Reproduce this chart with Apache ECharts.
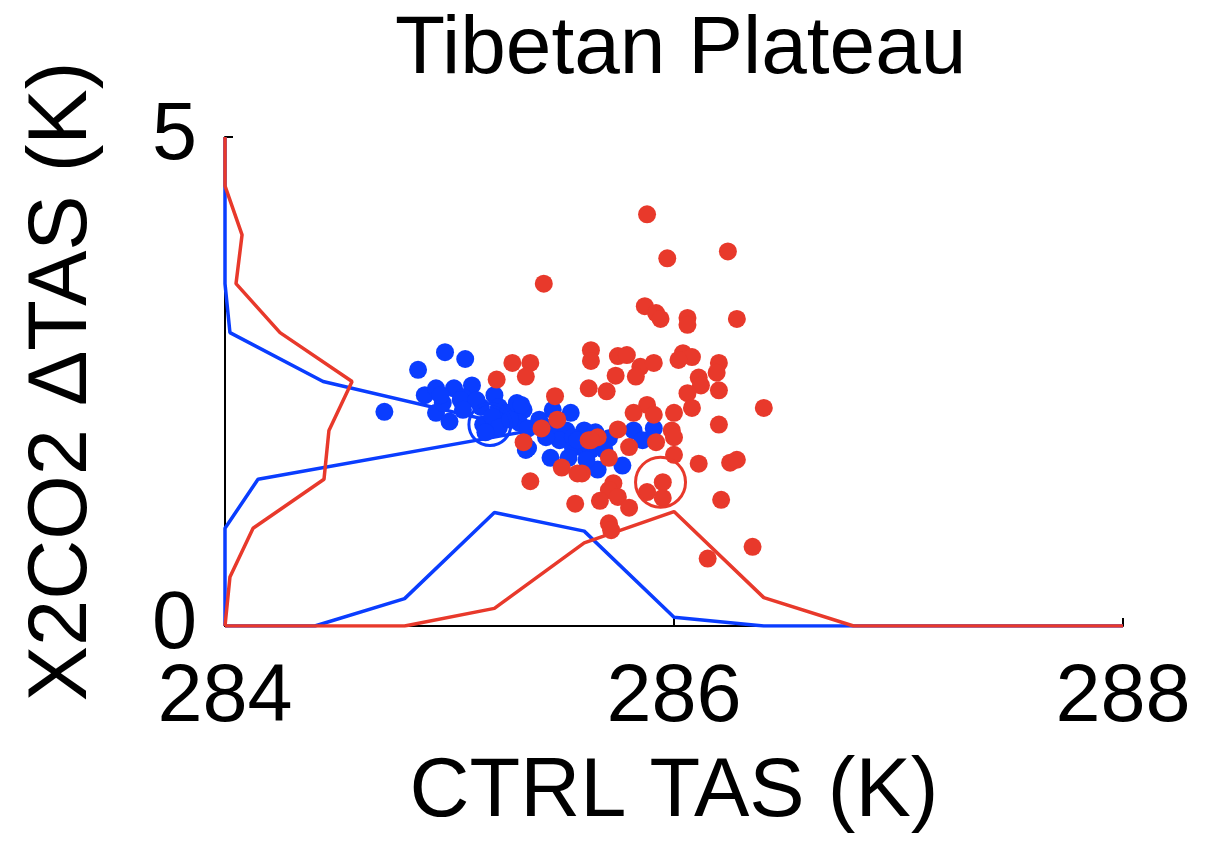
<!DOCTYPE html>
<html>
<head>
<meta charset="utf-8">
<script src="https://cdn.jsdelivr.net/npm/echarts@6/dist/echarts.min.js"></script>
<style>
  html, body { margin: 0; padding: 0; background: #ffffff; }
  #chart { width: 1220px; height: 844px; }
</style>
</head>
<body>
<div id="chart"></div>
<script>
// ---- data -------------------------------------------------------------
const titleText = 'Tibetan Plateau';
const xName = 'CTRL TAS (K)';
const yName = 'X2CO2 \u0394TAS (K)';
const xTicks = [284, 286, 288];
const yTicks = [0, 5];

// CTRL TAS (K), X2CO2 dTAS (K) per ensemble member
const bluePoints = [
  [284.98, 2.80], [285.07, 2.73], [284.86, 2.62], [284.71, 2.19], [284.89, 2.36],
  [284.94, 2.43], [285.02, 2.43], [285.10, 2.46], [285.06, 2.34], [284.94, 2.18],
  [285.00, 2.09], [284.97, 2.28], [285.14, 2.24], [285.20, 2.36], [285.22, 2.24],
  [285.26, 2.18], [285.15, 2.06], [285.21, 2.11], [285.18, 2.00], [285.30, 2.28],
  [285.33, 2.21], [285.31, 2.08], [285.35, 2.02], [285.35, 1.82], [285.46, 2.21],
  [285.54, 2.18], [285.45, 2.03], [285.52, 2.00], [285.60, 2.00], [285.65, 1.98],
  [285.71, 1.92], [285.67, 1.85], [285.49, 1.90], [285.55, 1.82], [285.61, 1.78],
  [285.45, 1.72], [285.53, 1.72], [285.66, 1.60], [285.77, 1.64], [285.82, 2.00],
  [285.86, 1.90], [285.91, 2.02], [285.05, 2.31], [285.12, 2.31], [285.19, 2.14],
  [285.22, 2.03], [285.16, 1.98], [285.32, 2.26], [285.34, 1.80], [285.63, 1.80],
  [285.55, 1.93], [285.61, 1.70], [284.96, 2.36], [285.27, 2.11], [285.40, 2.11],
  [285.57, 1.90], [285.69, 1.80], [285.06, 2.21], [285.43, 1.93]
];
const redPoints = [
  [285.42, 3.50], [285.88, 4.21], [285.97, 3.76], [286.24, 3.83], [285.87, 3.27],
  [285.92, 3.20], [285.94, 3.14], [286.06, 3.15], [286.06, 3.08], [286.28, 3.14],
  [285.28, 2.69], [285.36, 2.69], [285.63, 2.82], [285.63, 2.71], [285.75, 2.76],
  [285.79, 2.77], [285.85, 2.65], [285.91, 2.69], [285.83, 2.55], [285.74, 2.56],
  [285.62, 2.43], [285.70, 2.40], [286.04, 2.79], [286.08, 2.75], [286.02, 2.72],
  [286.20, 2.69], [286.19, 2.59], [286.20, 2.41], [286.11, 2.54], [286.12, 2.46],
  [286.06, 2.38], [286.08, 2.23], [285.88, 2.26], [285.91, 2.16], [285.82, 2.18],
  [286.00, 2.18], [286.40, 2.23], [286.20, 2.06], [285.75, 2.01], [285.99, 2.00],
  [286.00, 1.93], [285.92, 1.88], [285.80, 1.83], [285.62, 1.90], [285.66, 1.93],
  [285.71, 1.72], [286.00, 1.75], [286.11, 1.66], [286.25, 1.67], [286.28, 1.70],
  [285.59, 1.56], [285.73, 1.46], [285.71, 1.39], [285.95, 1.47], [285.88, 1.37],
  [285.95, 1.31], [286.21, 1.29], [285.56, 1.25], [285.67, 1.28], [285.75, 1.32],
  [285.80, 1.21], [285.71, 1.05], [285.72, 0.98], [286.35, 0.81], [286.15, 0.69],
  [285.34, 2.55], [285.21, 2.52], [285.47, 2.35], [285.48, 2.11], [285.41, 2.02],
  [285.33, 1.88], [285.50, 1.62], [285.57, 1.56], [285.36, 1.48], [285.63, 1.90]
];

// ensemble means
const blueMean = [285.18, 2.06];
const redMean = [285.94, 1.47];

// marginal distribution of CTRL TAS: bin centres (K) and heights
const xBins = [284.0, 284.4, 284.8, 285.2, 285.6, 286.0, 286.4, 286.8, 287.2, 287.6, 288.0];
const blueXDist = [0, 0, 0.28, 1.16, 0.97, 0.09, 0, 0, 0, 0, 0];
const redXDist  = [0, 0, 0, 0.18, 0.85, 1.17, 0.29, 0, 0, 0, 0];

// marginal distribution of dTAS: bin centres (K) and widths (K from the left edge)
const yBins = [0, 0.5, 1.0, 1.5, 2.0, 2.5, 3.0, 3.5, 4.0, 4.5, 5.0];
const blueYDist = [0, 0, 0, 0.147, 1.367, 0.437, 0.022, 0, 0, 0, 0];
const redYDist  = [0, 0.022, 0.125, 0.441, 0.463, 0.566, 0.245, 0.049, 0.076, 0, 0];

// ---- chart ------------------------------------------------------------
const BLUE = '#0a3dff';
const RED = '#e8392b';
const FONT = '"Liberation Sans", Arial, Helvetica, sans-serif';
const xMin = xTicks[0], xMax = xTicks[xTicks.length - 1];
const yMin = yTicks[0], yMax = yTicks[yTicks.length - 1];

const bottomCurve = (vals) => xBins.map((x, i) => [x, vals[i]]);
const leftCurve = (vals) => yBins.map((y, i) => [xMin + vals[i], y]);

function curve(data, color) {
  return {
    type: 'line', data, symbol: 'none', silent: true, z: 2,
    lineStyle: { color, width: 3.5 }, animation: false
  };
}
function dots(data, color, z) {
  return {
    type: 'scatter', data, symbol: 'circle', symbolSize: 18, z,
    itemStyle: { color, opacity: 1 }, animation: false
  };
}
function ring(pt, color, size) {
  return {
    type: 'scatter', data: [pt], symbol: 'circle', symbolSize: size, z: 6,
    itemStyle: { color: 'rgba(0,0,0,0)', borderColor: color, borderWidth: 3, opacity: 1 },
    animation: false
  };
}

const chart = echarts.init(document.getElementById('chart'), null, { renderer: 'canvas' });
chart.setOption({
  backgroundColor: '#ffffff',
  animation: false,
  title: {
    text: titleText, left: 390, top: 4,
    textStyle: { fontFamily: FONT, fontSize: 82, fontWeight: 'normal', color: '#000' }
  },
  grid: { left: 225, right: 97, top: 137, bottom: 218, containLabel: false },
  xAxis: {
    type: 'value', min: xMin, max: xMax, interval: xTicks[1] - xTicks[0],
    name: xName, nameLocation: 'middle', nameGap: 126,
    nameTextStyle: { fontFamily: FONT, fontSize: 83, color: '#000' },
    axisLine: { show: true, onZero: false, lineStyle: { color: '#000', width: 2 } },
    axisTick: { show: true, inside: true, length: 8, lineStyle: { color: '#000', width: 2 } },
    axisLabel: { fontFamily: FONT, fontSize: 81, color: '#000', margin: 32 },
    splitLine: { show: false }
  },
  yAxis: {
    type: 'value', min: yMin, max: yMax, interval: yTicks[1] - yTicks[0],
    name: yName, nameLocation: 'middle', nameGap: 120,
    nameTextStyle: { fontFamily: FONT, fontSize: 83, color: '#000' },
    axisLine: { show: true, onZero: false, lineStyle: { color: '#000', width: 2 } },
    axisTick: { show: true, inside: true, length: 8, lineStyle: { color: '#000', width: 2 } },
    axisLabel: { fontFamily: FONT, fontSize: 81, color: '#000', margin: 28 },
    splitLine: { show: false }
  },
  series: [
    curve(bottomCurve(blueXDist), BLUE),
    curve(leftCurve(blueYDist), BLUE),
    curve(bottomCurve(redXDist), RED),
    curve(leftCurve(redYDist), RED),
    dots(bluePoints, BLUE, 3),
    dots(redPoints, RED, 4),
    ring(blueMean, BLUE, 42),
    ring(redMean, RED, 50)
  ]
});
</script>
</body>
</html>
